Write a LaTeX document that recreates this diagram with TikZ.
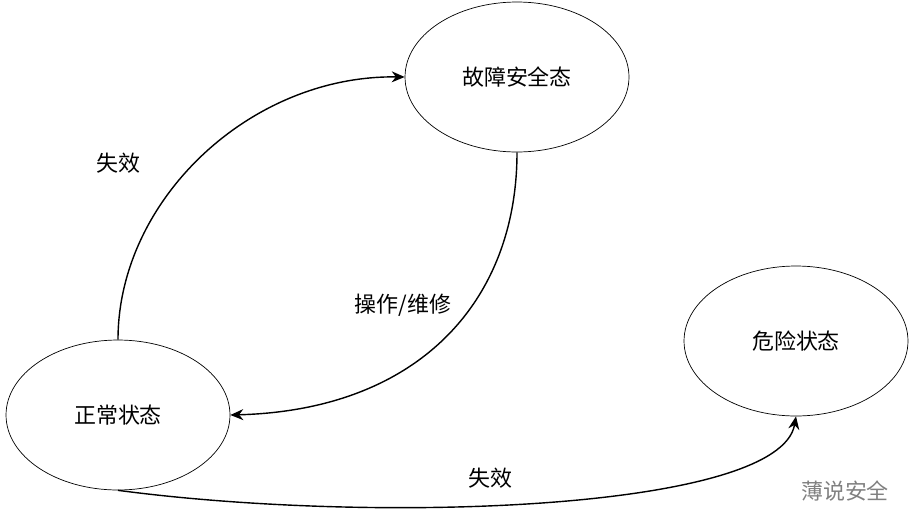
\documentclass[tikz,border=0pt]{standalone}
\usepackage{fontspec}
\setmainfont{Noto Sans CJK SC}
\usetikzlibrary{positioning,arrows.meta,shapes.geometric}
\tikzset{
    state/.style={draw, ellipse, minimum width=4.48cm, minimum height=3cm, inner sep=0pt, font=\fontsize{12.5}{14}\selectfont},
    flow/.style={-{Stealth[length=2.6mm,width=2.2mm]}, thick},
    lbl/.style={font=\fontsize{12.5}{14}\selectfont}
}
\begin{document}
\begin{tikzpicture}[x=0.02cm, y=-0.02cm]
                \useasboundingbox (0,0) rectangle (916,531);
                
                \node[state] (fault) at (517,77) {故障安全态};
                \node[state] (danger) at (796,341) {危险状态};
                \node[state] (normal) at (118,415) {正常状态};
                
                \draw[flow] (normal.north) .. controls (118,200) and (250,75) .. (fault.west);
                \draw[flow] (fault.south) .. controls (517,300) and (420,410) .. (normal.east);
                \draw[flow] (normal.south) .. controls (380,525) and (780,510) .. (danger.south);
                
                \node[lbl] (fail1) at (118,163) {失效};
                \node[lbl] (repair) at (403,305) {操作/维修};
                \node[lbl] (fail2) at (490,478) {失效};
                \node[lbl, gray] (mark) at (845,491) {薄说安全};
            \end{tikzpicture}
\end{document}
